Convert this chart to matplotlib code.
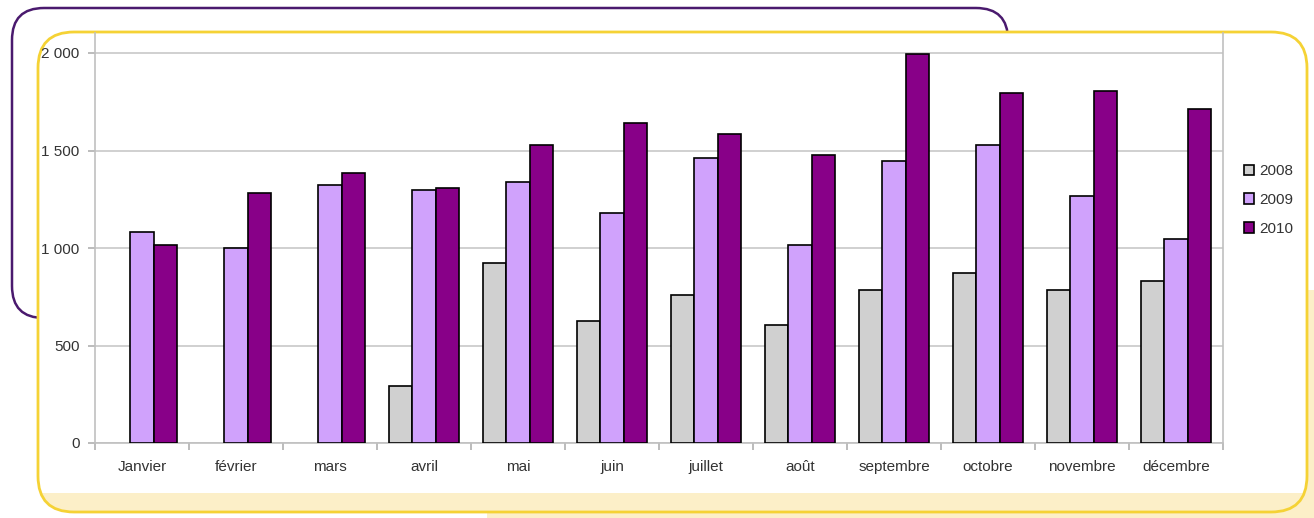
import matplotlib.pyplot as plt
import numpy as np
from matplotlib.patches import FancyBboxPatch, Rectangle, Patch

mois = ["Janvier", "février", "mars", "avril", "mai", "juin",
        "juillet", "août", "septembre", "octobre", "novembre", "décembre"]
v2008 = [0, 0, 0, 292, 923, 626, 759, 605, 785, 872, 785, 831]
v2009 = [1082, 1000, 1323, 1297, 1338, 1179, 1462, 1015, 1446, 1528, 1267, 1046]
v2010 = [1015, 1282, 1385, 1308, 1528, 1641, 1585, 1477, 1995, 1795, 1805, 1713]
annees = ["2008", "2009", "2010"]
couleurs = ["#d0d0d0", "#d0a2fc", "#880088"]

plt.rcParams["font.family"] = ["Liberation Sans", "DejaVu Sans"]

fig = plt.figure(figsize=(13.14, 5.18), dpi=100)

# décor de fond, en pixels
bg = fig.add_axes([0, 0, 1, 1], zorder=0)
bg.set_xlim(0, 1314)
bg.set_ylim(518, 0)
bg.axis("off")

bg.add_patch(Rectangle((487, 290), 827, 228, facecolor="#fcefc8", edgecolor="none"))
bg.add_patch(FancyBboxPatch((12, 8), 996, 310, boxstyle="round,pad=0,rounding_size=32",
                            facecolor="white", edgecolor="#4a1a6e", linewidth=1.8))
boite = FancyBboxPatch((38, 32), 1269, 480, boxstyle="round,pad=0,rounding_size=36",
                       facecolor="white", edgecolor="none")
bg.add_patch(boite)
bande = Rectangle((30, 493), 1290, 25, facecolor="#fcefc8", edgecolor="none")
bg.add_patch(bande)
bande.set_clip_path(boite)
bg.add_patch(FancyBboxPatch((38, 32), 1269, 480, boxstyle="round,pad=0,rounding_size=36",
                            facecolor="none", edgecolor="#f5d235", linewidth=2))

# graphique
ax = fig.add_axes([95 / 1314, 1 - 443 / 518, 1128 / 1314, 410 / 518], zorder=1)
ax.patch.set_alpha(0)

x = np.arange(len(mois))
w = 0.245
for i, (vals, coul) in enumerate(zip([v2008, v2009, v2010], couleurs)):
    vals = np.array(vals, dtype=float)
    m = vals > 0
    ax.bar(x[m] + (i - 1) * w, vals[m], width=w, color=coul,
           edgecolor="black", linewidth=1.2, zorder=3)

ax.set_xlim(-0.5, len(mois) - 0.5)
ax.set_ylim(0, 2000 * 410 / 390)
ax.set_yticks([0, 500, 1000, 1500, 2000])
ax.set_yticklabels(["0", "500", "1 000", "1 500", "2 000"])
ax.set_xticks(x)
ax.set_xticklabels(mois)
ax.set_xticks(np.arange(-0.5, len(mois)), minor=True)
ax.tick_params(axis="x", which="major", length=0, pad=12)
ax.tick_params(axis="x", which="minor", length=5, color="#b0b0b0", width=1.2)
ax.tick_params(axis="y", length=5, color="#b0b0b0", width=1.2, pad=6)
ax.tick_params(labelsize=11, labelcolor="#333333")
ax.grid(axis="y", color="#c8c8c8", linewidth=1.2, zorder=0)

for s in ["left", "right", "bottom"]:
    ax.spines[s].set_color("#c0c0c0")
    ax.spines[s].set_linewidth(1.2)
ax.spines["top"].set_visible(False)

handles = [Patch(facecolor=c, edgecolor="black", linewidth=1.2) for c in couleurs]
fig.legend(handles, annees, loc="center left", bbox_to_anchor=(1230 / 1314, 1 - 200 / 518),
           frameon=False, fontsize=11, handlelength=0.7, handleheight=0.7,
           handletextpad=0.3, labelspacing=0.95, labelcolor="#333333")

fig.savefig("out.png", dpi=100)
